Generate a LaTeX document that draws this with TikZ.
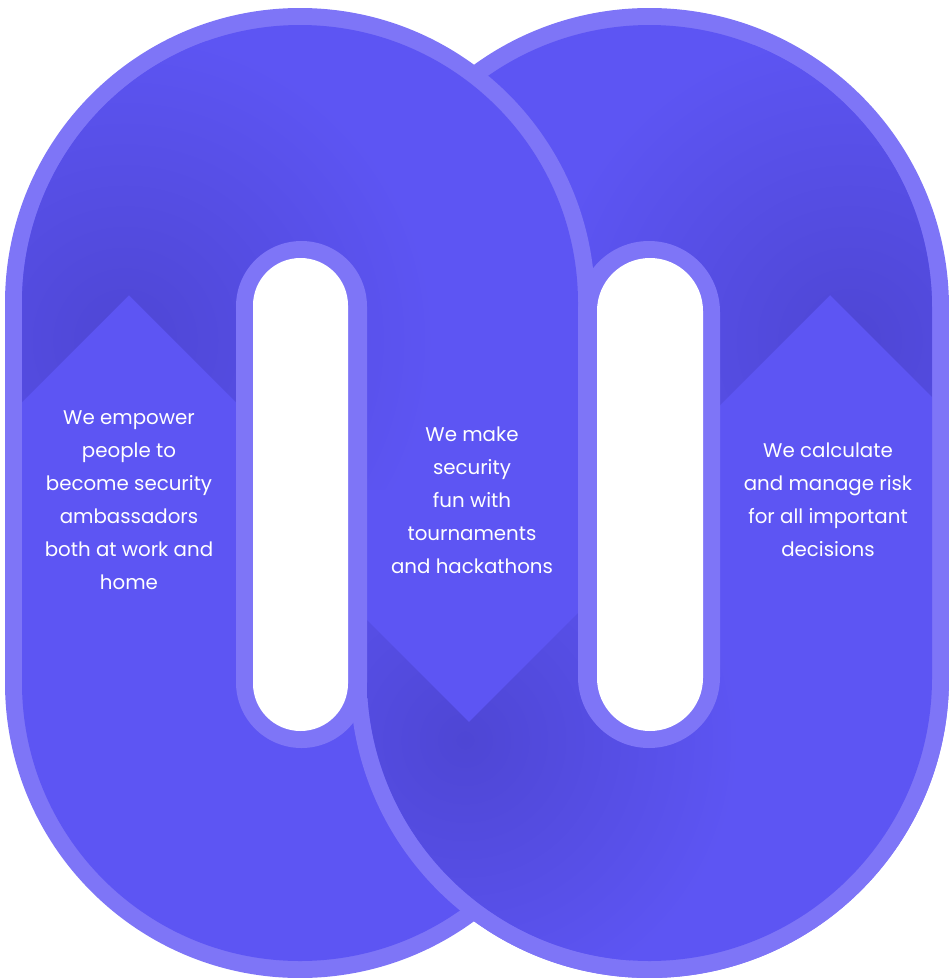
\documentclass[tikz,border=0pt]{standalone}
\usepackage{fontspec}
\setmainfont{Poppins}
\definecolor{basec}{RGB}{93,85,243}
\definecolor{ringc}{RGB}{126,117,247}
\definecolor{darkc}{RGB}{78,70,212}
\begin{document}
\begin{tikzpicture}[x=1pt,y=-1pt,
  txt/.style={text=white, align=center, font=\fontsize{19.8}{33}\selectfont, inner sep=0pt},
  shadefill/.style={inner color=darkc, outer color=basec}]
\useasboundingbox (0,0) rectangle (949,978);
% ---- right link (bottom layer)
\fill[ringc, rounded corners=299.5pt] (350,8) rectangle (949,978);
\fill[basec, rounded corners=283pt] (367,25) rectangle (932,961);
\begin{scope}
  \clip[rounded corners=283pt] (367,25) rectangle (932,961);
  \clip (300,-10) -- (300,825) -- (830,295) -- (1000,465) -- (1000,-10) -- cycle;
  \shade[shadefill] (850,340) circle (310);
\end{scope}
% ---- left link
\fill[ringc, rounded corners=295pt] (5,8) rectangle (595,978);
\fill[basec, rounded corners=278pt] (22,25) rectangle (578,961);
\begin{scope}
  \clip[rounded corners=278pt] (22,25) rectangle (578,961);
  \clip (-10,-10) -- (-10,434) -- (129,295) -- (600,766) -- (600,-10) -- cycle;
  \shade[shadefill] (125,340) circle (310);
\end{scope}
% ---- right link again, on top in the lower half
\begin{scope}
  \clip (0,490) rectangle (949,978);
  \fill[ringc, rounded corners=299.5pt] (350,8) rectangle (949,978);
  \fill[basec, rounded corners=283pt] (367,25) rectangle (932,961);
  \clip[rounded corners=283pt] (367,25) rectangle (932,961);
  \clip (300,553) -- (469,722) -- (800,391) -- (800,1000) -- (300,1000) -- cycle;
  \shade[shadefill] (465,740) circle (275);
\end{scope}
% ---- holes
\fill[ringc, rounded corners=65.5pt] (236,241) rectangle (367,748);
\fill[white, rounded corners=47.5pt] (253,258) rectangle (348,731);
\fill[ringc, rounded corners=71pt] (578,241) rectangle (720,748);
\fill[white, rounded corners=53pt] (597,258) rectangle (703,731);
% ---- texts
\node[txt] (tleft) at (129,500) {We empower\\people to\\become security\\ambassadors\\both at work and\\home};
\node[txt] (tmid) at (472,500) {We make\\security\\fun with\\tournaments\\and hackathons};
\node[txt] (tright) at (828,500) {We calculate\\and manage risk\\for all important\\decisions};
\end{tikzpicture}
\end{document}
